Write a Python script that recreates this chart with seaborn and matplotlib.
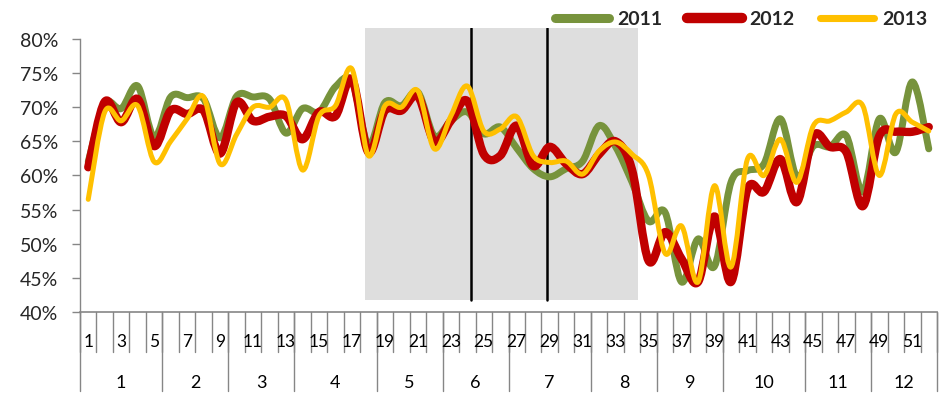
import matplotlib
matplotlib.use('Agg')
import matplotlib.pyplot as plt
import matplotlib.transforms as mtransforms
from matplotlib.path import Path
from matplotlib.patches import PathPatch
from matplotlib.lines import Line2D
import seaborn as sns
import pandas as pd

# semanas e meses
weeks = list(range(1, 53))
months = [str(m) for m in range(1, 13)]
weeks_per_month = [5, 4, 4, 5, 4, 4, 5, 4, 4, 5, 4, 4]

v2011 = [62.0, 70.5, 69.8, 73.1, 65.6, 71.5, 71.4, 71.2, 65.5, 71.6,
         71.5, 71.2, 66.2, 69.8, 69.3, 73.0, 73.8, 64.5, 70.7, 70.2,
         72.2, 65.8, 68.0, 69.3, 66.1, 67.1, 64.0, 61.0, 59.8, 61.0,
         62.1, 67.3, 64.2, 59.0, 53.3, 54.6, 44.4, 50.7, 46.7, 59.0,
         60.7, 61.7, 68.3, 59.8, 64.3, 64.2, 65.8, 57.6, 68.3, 63.4,
         73.7, 63.9]
v2012 = [61.2, 70.8, 67.8, 71.2, 64.3, 69.5, 69.0, 69.5, 63.2, 70.7,
         68.0, 68.6, 68.7, 65.3, 69.3, 68.7, 74.1, 63.4, 69.5, 69.5,
         71.6, 65.0, 68.0, 70.9, 63.1, 62.9, 67.3, 61.4, 64.2, 61.7,
         60.2, 63.1, 65.0, 60.8, 47.5, 51.7, 47.8, 44.4, 54.0, 44.4,
         58.0, 57.6, 62.4, 56.1, 65.8, 64.2, 63.4, 55.5, 65.8, 66.4,
         66.4, 67.1]
v2013 = [56.5, 69.3, 68.0, 70.2, 62.0, 65.0, 68.3, 71.5, 61.7, 66.0,
         70.0, 70.0, 71.0, 60.8, 68.7, 70.2, 75.6, 62.9, 70.2, 70.0,
         72.4, 63.9, 68.7, 73.1, 66.5, 66.8, 68.6, 62.9, 61.9, 62.1,
         60.2, 63.6, 64.9, 63.1, 60.0, 48.6, 52.6, 44.4, 58.5, 46.6,
         62.4, 60.0, 65.3, 59.0, 67.3, 68.0, 69.3, 70.2, 60.0, 69.0,
         67.8, 66.5]

df = pd.DataFrame({'semana': weeks, '2011': v2011, '2012': v2012, '2013': v2013})

cores = {'2011': '#77933C', '2012': '#C00000', '2013': '#FFC000'}
larguras = {'2011': 5.0, '2012': 6.0, '2013': 3.6}
cinza = '#868686'

sns.set_theme(style='white')
plt.rcParams['font.family'] = ['Lato', 'DejaVu Sans']

fig = plt.figure(figsize=(9.42, 4.02), dpi=100)
ax = fig.add_axes([80 / 942, 1 - 313 / 402, 857 / 942, 284 / 402])


def curva_suave(x, y):
    # linha suavizada estilo Excel (Bezier cubica / Catmull-Rom)
    pts = list(zip(x, y))
    verts = [pts[0]]
    codes = [Path.MOVETO]
    n = len(pts)
    for i in range(n - 1):
        p0 = pts[max(i - 1, 0)]
        p1 = pts[i]
        p2 = pts[i + 1]
        p3 = pts[min(i + 2, n - 1)]
        c1 = (p1[0] + (p2[0] - p0[0]) / 6, p1[1] + (p2[1] - p0[1]) / 6)
        c2 = (p2[0] - (p3[0] - p1[0]) / 6, p2[1] - (p3[1] - p1[1]) / 6)
        verts += [c1, c2, p2]
        codes += [Path.CURVE4] * 3
    return Path(verts, codes)


# area sombreada e linhas verticais
ax.axvspan(17.8, 34.35, ymin=0, ymax=1, color='#DEDEDE', lw=0, zorder=0)
ax.fill_between([17.8, 34.35], 40, 41.75, color='white', lw=0, zorder=0.5)
for xv in [24.22, 28.85]:
    ax.plot([xv, xv], [41.75, 81.6], color='black', lw=1.8, zorder=1)

for ano in ['2011', '2012', '2013']:
    patch = PathPatch(curva_suave(df['semana'], df[ano]), fill=False,
                      edgecolor=cores[ano], lw=larguras[ano],
                      capstyle='round', joinstyle='round', zorder=3)
    ax.add_patch(patch)

ax.set_xlim(0.5, 52.5)
ax.set_ylim(40, 81.6)
ax.set_yticks(range(40, 81, 5))
ax.set_yticklabels([f'{v}%' for v in range(40, 81, 5)], fontsize=14)
ax.set_xticks([])
ax.tick_params(axis='y', left=True, length=5.8, width=1, color=cinza, pad=10)

for s in ['top', 'right']:
    ax.spines[s].set_visible(False)
ax.spines['left'].set_bounds(40, 80)
ax.spines['left'].set_color(cinza)
ax.spines['bottom'].set_color(cinza)
ax.spines['left'].set_linewidth(1)
ax.spines['bottom'].set_linewidth(1.2)

# eixo de categorias em dois niveis (semana / mes)
trans = mtransforms.blended_transform_factory(ax.transData, ax.transAxes)
for w in weeks + [weeks[-1] + 1]:
    ax.add_line(Line2D([w - 0.5, w - 0.5], [0, -0.141], transform=trans,
                       color=cinza, lw=1, clip_on=False))
for w in weeks[::2]:
    ax.text(w, -0.102, str(w), transform=trans, ha='center', va='center',
            fontsize=12.5, color='black')

inicio = 0.5
for mes, n in zip(months, weeks_per_month):
    fim = inicio + n
    ax.add_line(Line2D([inicio, inicio], [0, -0.278], transform=trans,
                       color=cinza, lw=1, clip_on=False))
    ax.text((inicio + fim) / 2, -0.246, mes, transform=trans, ha='center',
            va='center', fontsize=13, color='black')
    inicio = fim
ax.add_line(Line2D([inicio, inicio], [0, -0.278], transform=trans,
                   color=cinza, lw=1, clip_on=False))

handles = [Line2D([], [], color=cores[a], lw=larguras[a] + 1.5,
                  solid_capstyle='round') for a in ['2011', '2012', '2013']]
leg = fig.legend(handles, ['2011', '2012', '2013'], loc='upper right',
                 bbox_to_anchor=(1.003, 1.015), ncol=3, frameon=False,
                 prop={'weight': 'bold', 'size': 14}, handlelength=2.8,
                 handletextpad=0.4, columnspacing=1.3)

fig.savefig('out.png', dpi=100)
